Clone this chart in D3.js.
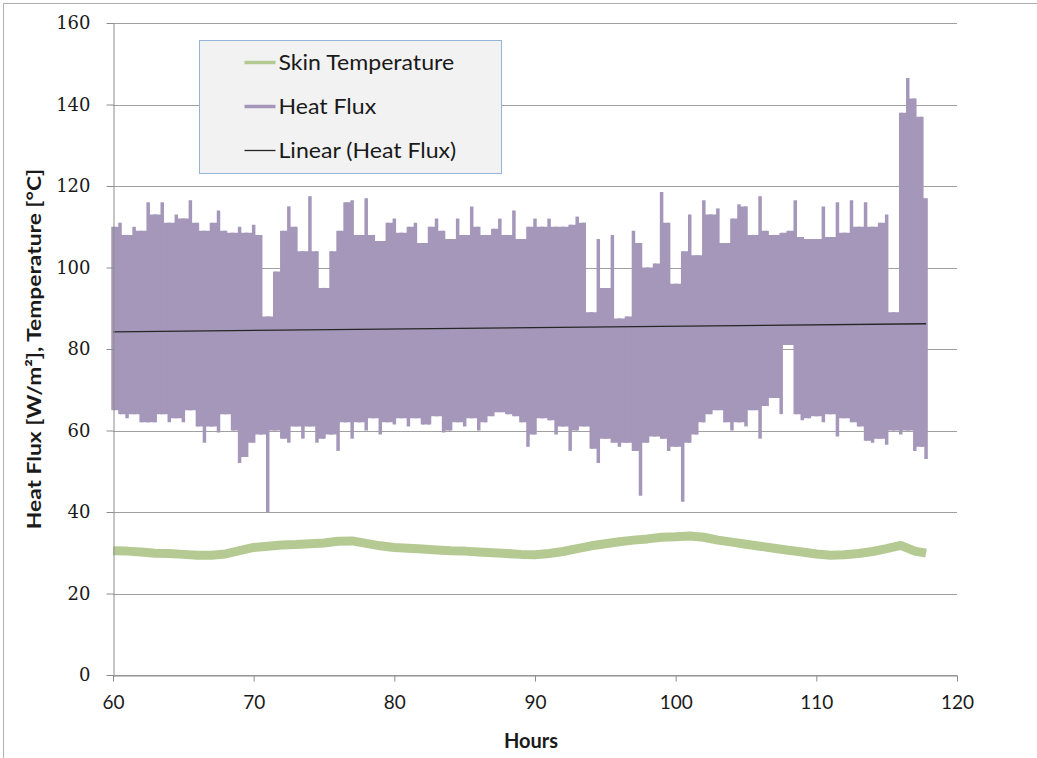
<!DOCTYPE html>
<html>
<head>
<meta charset="utf-8">
<script src="https://cdn.jsdelivr.net/npm/d3@7"></script>
<style>
  body { margin: 0; background: #fff; }
  svg { display: block; }
</style>
</head>
<body>
<div id="chart-area"></div>
<script>
// heat flux envelope, one max/min pair per half hour, last reading at 117.8 h
var fluxHours = d3.range(60, 118, 0.5).concat([117.8]);
var fluxHigh = [
	110, 111, 108, 110, 109, 116, 113, 116, 111, 113,
	112, 116.5, 111, 109, 111, 114, 109, 108.5, 110, 108.5,
	110.5, 108, 88, 99, 109, 115, 110, 104, 117.5, 104,
	95, 104, 109, 116, 116.5, 108, 117, 108, 106.5, 111,
	112, 108.5, 110, 111, 106, 110, 112, 109, 107, 112,
	108, 115, 110, 108, 109.5, 112, 108, 114, 107, 110,
	112, 110, 112, 110, 110, 110.5, 112.5, 111, 89, 107,
	95, 108, 87.5, 88, 109, 106, 100, 101, 118.5, 111,
	96, 104, 113, 103, 116.5, 113, 114.5, 106, 112, 115.5,
	115, 108, 117.5, 109, 108, 108.5, 109, 116.5, 107.5, 107,
	107, 115, 107.5, 116, 108.5, 116.5, 110, 116, 110, 111,
	113, 89, 138, 146.5, 141.5, 137, 117
];
var fluxLow = [
	65, 64, 63, 64, 62, 62, 62, 64, 62, 63,
	62, 65, 61, 57, 61, 59.5, 64, 60, 52, 53.5,
	57, 59, 40, 60, 58, 57, 61, 58, 61, 57,
	58, 59, 55, 62, 58, 62, 60, 63, 59, 62,
	61.5, 63, 61, 63, 61.5, 61.5, 63.5, 59.5, 60, 62,
	61, 63, 60, 62, 63.5, 64.5, 64, 63.5, 62, 56,
	59, 63, 62.5, 59, 61, 55, 60, 61, 55.5, 52,
	58, 57, 56, 57, 55, 44, 57, 58.5, 58, 55,
	56, 42.5, 57, 59, 62, 64, 65, 62, 60, 62,
	61, 65, 58, 66, 68, 64, 81, 64, 62.5, 63,
	63.5, 62, 64, 58.5, 63, 62, 61, 57.5, 57, 58,
	56.5, 60, 59, 60, 55, 56, 53
];

var skinHours = [
	60, 61, 62, 63, 64, 65, 66, 67, 68, 69,
	70, 71, 72, 73, 74, 75, 76, 77, 78, 79,
	80, 81, 82, 83, 84, 85, 86, 87, 88, 89,
	90, 91, 92, 93, 94, 95, 96, 97, 98, 99,
	100, 101, 102, 103, 104, 105, 106, 107, 108, 109,
	110, 111, 112, 113, 114, 115, 116, 117, 117.8
];
var skinTemp = [
	30.5, 30.4, 30.2, 29.9, 29.8, 29.6, 29.4, 29.4, 29.7, 30.5,
	31.3, 31.6, 31.9, 32.0, 32.2, 32.4, 32.8, 32.9, 32.3, 31.7,
	31.3, 31.1, 30.9, 30.7, 30.5, 30.4, 30.2, 30.0, 29.8, 29.6,
	29.5, 29.8, 30.3, 31.0, 31.7, 32.2, 32.7, 33.1, 33.4, 33.8,
	33.9, 34.1, 33.8, 33.1, 32.6, 32.1, 31.6, 31.1, 30.6, 30.2,
	29.7, 29.4, 29.5, 29.8, 30.3, 31.0, 31.8, 30.4, 29.9
];

// linear trend of heat flux, end points
var trendHours = [60, 117.8];
var trendValues = [84.2, 86.2];

var xTicks = [60, 70, 80, 90, 100, 110, 120];
var yTicks = [0, 20, 40, 60, 80, 100, 120, 140, 160];

var legendNames = ["Skin Temperature", "Heat Flux", "Linear (Heat Flux)"];
var legendColors = ["#b5ca92", "#a597ba", "#262626"];
var legendWidths = [3.5, 3.5, 1.3];

var svg = d3.select("#chart-area").append("svg").attr("width", 1037).attr("height", 758);
var margin = {left: 113, right: 80, top: 23, bottom: 83};
var width = 1037 - margin.left - margin.right;
var height = 758 - margin.top - margin.bottom;

var x = d3.scaleLinear().domain([60, 120]).range([0, width]);
var y = d3.scaleLinear().domain([0, 160]).range([height, 0]);

// outer frame, only left and top edges show
svg.append("rect")
	.attr("x", 3.5).attr("y", 3.5)
	.attr("width", 1100).attr("height", 800)
	.attr("fill", "none")
	.attr("stroke", "#b0b0b0");

var g = svg.append("g")
	.attr("transform", "translate(" + margin.left + ", " + margin.top + ")");

// horizontal gridlines
g.append("g").selectAll("line").data(yTicks).enter().append("line")
	.attr("x1", 0).attr("x2", width)
	.attr("y1", d => Math.round(y(d)) + 0.5)
	.attr("y2", d => Math.round(y(d)) + 0.5)
	.attr("stroke", "#a0a0a0");

// heat flux: solid core between neighbouring readings, thin spikes for each reading
var fluxData = fluxHours.map((t, i) => ({t: t, hi: fluxHigh[i], lo: fluxLow[i]}));
var coreData = fluxData.map((d, i) => {
	var next = fluxData[Math.min(i + 1, fluxData.length - 1)];
	return {t: d.t, top: Math.min(d.hi, next.hi), bottom: Math.max(d.lo, next.lo)};
});

var coreArea = d3.area()
	.curve(d3.curveStepAfter)
	.x(d => x(d.t))
	.y0(d => y(d.bottom))
	.y1(d => y(d.top));

g.append("path")
	.datum(coreData)
	.attr("d", coreArea)
	.attr("fill", "#a597ba");

g.append("g").selectAll("line").data(fluxData).enter().append("line")
	.attr("x1", d => x(d.t)).attr("x2", d => x(d.t))
	.attr("y1", d => y(d.lo)).attr("y2", d => y(d.hi))
	.attr("stroke", "#a597ba")
	.attr("stroke-width", 3.5);

// skin temperature
var skinLine = d3.line()
	.x((d, i) => x(skinHours[i]))
	.y(d => y(d));

g.append("path")
	.datum(skinTemp)
	.attr("d", skinLine)
	.attr("fill", "none")
	.attr("stroke", "#b5ca92")
	.attr("stroke-width", 9)
	.attr("stroke-linejoin", "round");

// trend
g.append("line")
	.attr("x1", x(trendHours[0])).attr("y1", y(trendValues[0]))
	.attr("x2", x(trendHours[1])).attr("y2", y(trendValues[1]))
	.attr("stroke", "#262626")
	.attr("stroke-width", 1.3);

// axes
var bottomAxis = d3.axisBottom(x).tickValues(xTicks).tickSize(6).tickSizeOuter(0).tickPadding(14);
var leftAxis = d3.axisLeft(y).tickValues(yTicks).tickSize(7).tickSizeOuter(0).tickPadding(16);

var bottomAxisGroup = g.append("g")
	.attr("transform", "translate(0, " + (Math.round(height) + 0.5) + ")")
	.call(bottomAxis);
bottomAxisGroup.selectAll("path, line").attr("stroke", "#8c8c8c");
bottomAxisGroup.selectAll("text")
	.attr("font-family", "Lato, 'Open Sans', sans-serif")
	.attr("font-size", "19px")
	.attr("fill", "#1a1a1a");

var leftAxisGroup = g.append("g")
	.attr("transform", "translate(0.5, 0)")
	.call(leftAxis);
leftAxisGroup.selectAll("path, line").attr("stroke", "#8c8c8c");
leftAxisGroup.selectAll("text")
	.attr("font-family", "'DejaVu Serif', serif")
	.attr("font-size", "18px")
	.attr("fill", "#1a1a1a");

// axis titles
g.append("text")
	.attr("x", width / 2 - 4)
	.attr("y", height + 73)
	.attr("text-anchor", "middle")
	.attr("font-family", "Lato, sans-serif")
	.attr("font-weight", "bold")
	.attr("font-size", "20px")
	.attr("fill", "#1a1a1a")
	.text("Hours");

g.append("g")
	.attr("transform", "translate(-72, " + (height / 2) + ") rotate(-90) scale(1.2, 1)")
	.append("text")
	.attr("text-anchor", "middle")
	.attr("font-family", "Lato, sans-serif")
	.attr("font-weight", "bold")
	.attr("font-size", "19px")
	.attr("fill", "#1a1a1a")
	.text("Heat Flux [W/m²], Temperature [°C]");

// legend
var legend = svg.append("g").attr("transform", "translate(199.5, 40.5)");
legend.append("rect")
	.attr("width", 302).attr("height", 133)
	.attr("fill", "#f2f2f2")
	.attr("stroke", "#95b3d7");

var rows = legend.selectAll("g.row").data(legendNames).enter().append("g")
	.attr("class", "row")
	.attr("transform", (d, i) => "translate(0, " + [22, 66, 110][i] + ")");
rows.append("line")
	.attr("x1", 45).attr("x2", 76)
	.attr("stroke", (d, i) => legendColors[i])
	.attr("stroke-width", (d, i) => legendWidths[i]);
rows.append("text")
	.attr("transform", "translate(79, 0) scale(1.1, 1)")
	.attr("dy", "0.35em")
	.attr("font-family", "Lato, sans-serif")
	.attr("font-size", "21px")
	.attr("fill", "#1a1a1a")
	.text(d => d);
</script>
</body>
</html>
